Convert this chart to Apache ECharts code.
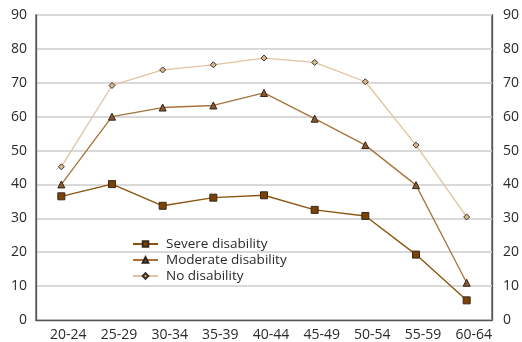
<!DOCTYPE html>
<html>
<head>
<meta charset="utf-8">
<script src="https://cdn.jsdelivr.net/npm/echarts@6/dist/echarts.min.js"></script>
<style>html,body{margin:0;padding:0;background:#fff}#c{width:522px;height:342px}</style>
</head>
<body>
<div id="c"></div>
<script>
const categories = ['20-24','25-29','30-34','35-39','40-44','45-49','50-54','55-59','60-64'];
const severe = [36.5, 40.1, 33.7, 36.1, 36.8, 32.5, 30.7, 19.3, 5.8];
const moderate = [40.0, 60.0, 62.7, 63.3, 67.0, 59.4, 51.6, 39.8, 11.0];
const noDisability = [45.2, 69.2, 73.8, 75.3, 77.3, 76.0, 70.3, 51.6, 30.4];
const seriesNames = ['Severe disability', 'Moderate disability', 'No disability'];

const font = '"Open Sans", "Noto Sans", sans-serif';
const chart = echarts.init(document.getElementById('c'), null, {renderer: 'canvas'});
const yAxisBase = {
  type: 'value', min: 0, max: 90, interval: 10,
  axisLine: {show: true, lineStyle: {color: '#555', width: 1.3}},
  axisTick: {show: false},
  axisLabel: {color: '#2a2a2a', fontSize: 14, fontFamily: font}
};
chart.setOption({
  animation: false,
  grid: {left: 36, right: 28, top: 15, bottom: 21.5, show: true, borderColor: '#555', borderWidth: 1.3},
  xAxis: {
    type: 'category', data: categories, boundaryGap: true,
    axisLine: {show: true, lineStyle: {color: '#555', width: 1.3}},
    axisTick: {show: false},
    axisLabel: {color: '#2a2a2a', fontSize: 14, fontFamily: font, margin: 8, padding: [0, 0, 0, 14]}
  },
  yAxis: [
    Object.assign({}, yAxisBase, {position: 'left', axisLabel: Object.assign({}, yAxisBase.axisLabel, {margin: 9}),
      splitLine: {show: true, lineStyle: {color: '#d9d9d9', width: 2}}}),
    Object.assign({}, yAxisBase, {position: 'right', axisLabel: Object.assign({}, yAxisBase.axisLabel, {margin: 11}),
      splitLine: {show: false}})
  ],
  legend: {
    orient: 'vertical', left: 127, top: 231, itemWidth: 25, itemHeight: 7, itemGap: 0,
    textStyle: {color: '#2a2a2a', fontSize: 13.5, fontFamily: font, lineHeight: 16, padding: [0, 0, 0, 3]},
    data: seriesNames
  },
  series: [
    {name: seriesNames[0], type: 'line', data: severe, symbol: 'rect', symbolSize: 7,
      lineStyle: {color: '#8a560f', width: 1.4},
      itemStyle: {color: '#7a4204', borderColor: '#3a2a1a', borderWidth: 1}},
    {name: seriesNames[1], type: 'line', data: moderate, symbol: 'triangle', symbolSize: 7,
      lineStyle: {color: '#a8733a', width: 1.3},
      itemStyle: {color: '#8a5a30', borderColor: '#2f2418', borderWidth: 1}},
    {name: seriesNames[2], type: 'line', data: noDisability, symbol: 'diamond', symbolSize: 6,
      lineStyle: {color: '#e2c29e', width: 1.3},
      itemStyle: {color: '#d9b890', borderColor: '#3a3028', borderWidth: 1}}
  ]
});
</script>
</body>
</html>
